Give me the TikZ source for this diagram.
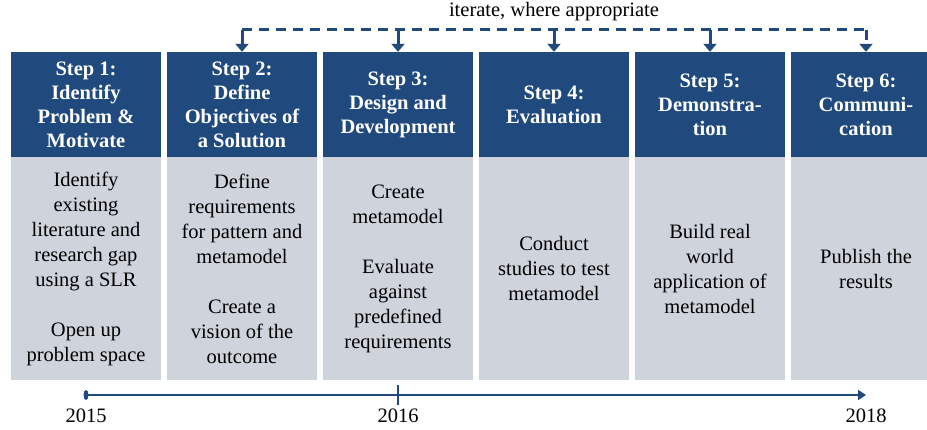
\documentclass[tikz,border=0pt]{standalone}
\usepackage{fontspec}
\setmainfont{Liberation Serif}
\usetikzlibrary{shapes,arrows.meta,positioning}
\definecolor{stepblue}{RGB}{32,74,126}
\definecolor{stepgrey}{RGB}{207,212,220}
\tikzstyle{stephead} = [rectangle, fill=stepblue, text=white, minimum width=150pt, minimum height=105pt, inner sep=0pt, align=center, font=\fontsize{20.5}{24}\selectfont\bfseries]
\tikzstyle{stepbody} = [rectangle, fill=stepgrey, minimum width=150pt, minimum height=223pt, inner sep=0pt, align=center, font=\fontsize{20.5}{25}\selectfont]
\tikzstyle{iterline} = [draw=stepblue, line width=3pt, dash pattern=on 10pt off 7pt]
\tikzstyle{godown} = [draw=stepblue, line width=3pt, -{Triangle[width=13pt,length=8pt]}]
\tikzstyle{yearlabel} = [font=\fontsize{20.5}{25}\selectfont]

\begin{document}
\begin{tikzpicture}[x=1pt,y=-1pt]
		\useasboundingbox (0,0) rectangle (927,430);
		\clip (0,0) rectangle (927,430);
		% step headers
		\node[stephead] (h1) at (86,104.5) {Step 1:\\Identify\\Problem \&\\Motivate};
		\node[stephead, right=5.6pt of h1] (h2) {Step 2:\\Define\\Objectives of\\a Solution};
		\node[stephead, right=5.6pt of h2] (h3) {Step 3:\\Design and\\Development};
		\node[stephead, right=5.6pt of h3] (h4) {Step 4:\\Evaluation};
		\node[stephead, right=5.6pt of h4] (h5) {Step 5:\\Demonstra-\\tion};
		\node[stephead, right=5.6pt of h5] (h6) {Step 6:\\Communi-\\cation};
		% step contents
		\node[stepbody, below=0pt of h1] (b1) {Identify\\existing\\literature and\\research gap\\using a SLR\\[25pt]Open up\\problem space};
		\node[stepbody, below=0pt of h2] (b2) {Define\\requirements\\for pattern and\\metamodel\\[25pt]Create a\\vision of the\\outcome};
		\node[stepbody, below=0pt of h3] (b3) {Create\\metamodel\\[25pt]Evaluate\\against\\predefined\\requirements};
		\node[stepbody, below=0pt of h4] (b4) {Conduct\\studies to test\\metamodel};
		\node[stepbody, below=0pt of h5] (b5) {Build real\\world\\application of\\metamodel};
		\node[stepbody, below=0pt of h6] (b6) {Publish the\\results};
		% iteration loop
		\node[yearlabel] (iter) at (554,12) {iterate, where appropriate};
		\coordinate (it2) at (h2.north |- 0,30);
		\coordinate (it3) at (h3.north |- 0,30);
		\coordinate (it4) at (h4.north |- 0,30);
		\coordinate (it5) at (h5.north |- 0,30);
		\coordinate (it6) at (h6.north |- 0,30);
		\draw[iterline] (it2) -- (it6);
		\draw[godown] (it2) -- (h2.north);
		\draw[godown] (it3) -- (h3.north);
		\draw[godown] (it4) -- (h4.north);
		\draw[godown] (it5) -- (h5.north);
		\draw[iterline, godown] (it6) -- (h6.north);
		% timeline
		\coordinate (t0) at (h1.south |- 0,395);
		\coordinate (t1) at (h3.south |- 0,395);
		\coordinate (t2) at (h6.south |- 0,395);
		\draw[draw=stepblue, line width=2.5pt, -{Triangle[width=10pt,length=8pt]}] (t0) -- (t2);
		\fill[stepblue] (t0) ellipse (2.5 and 5);
		\draw[stepblue, line width=2pt] ([yshift=10pt]t1) -- ([yshift=-10pt]t1);
		\node[yearlabel] (y15) at (h1.south |- 0,416) {2015};
		\node[yearlabel] (y16) at (h3.south |- 0,416) {2016};
		\node[yearlabel] (y18) at (h6.south |- 0,416) {2018};
\end{tikzpicture}
\end{document}
